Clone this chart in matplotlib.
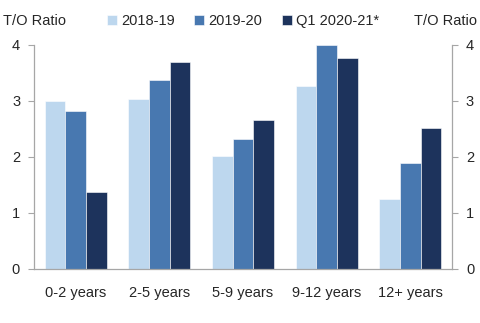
import numpy as np
import matplotlib.pyplot as plt

plt.rcParams['font.family'] = ['Liberation Sans', 'DejaVu Sans']

# Turnover ratio by age bucket
buckets = ['0-2 years', '2-5 years', '5-9 years', '9-12 years', '12+ years']
periods = ['2018-19', '2019-20', 'Q1 2020-21*']
fy19 = [3.00, 3.04, 2.02, 3.26, 1.25]
fy20 = [2.82, 3.37, 2.33, 4.00, 1.89]
q1_fy21 = [1.37, 3.70, 2.66, 3.76, 2.52]
colors = ['#BDD7EE', '#4878B0', '#1D335C']

fig = plt.figure(figsize=(4.8, 3.23), dpi=100)
ax = fig.add_axes([0.0708, 0.1672, 0.8709, 0.6935])

x = np.arange(len(buckets))
w = 0.248
for i, (vals, lab) in enumerate(zip([fy19, fy20, q1_fy21], periods)):
    ax.bar(x + (i - 1) * w, vals, w, color=colors[i], label=lab,
           edgecolor='white', linewidth=0.4)

ax.set_xlim(-0.5, len(buckets) - 0.5)
ax.set_ylim(0, 4)
ax.set_yticks([0, 1, 2, 3, 4])
ax.set_xticks(x)
ax.set_xticklabels(buckets)

grey = '#A6A6A6'
ax.spines['top'].set_visible(False)
for s in ['left', 'right', 'bottom']:
    ax.spines[s].set_color(grey)
    ax.spines[s].set_linewidth(0.9)
ax.tick_params(axis='y', left=True, right=True, labelleft=True,
               labelright=True, length=4, labelsize=10.5, pad=6,
               colors='#262626')
ax.tick_params(axis='y', color=grey)
ax.tick_params(axis='x', length=0, labelsize=10.5, pad=12, colors='#262626')

fig.text(0.006, 0.935, 'T/O Ratio', fontsize=10.5, color='#262626', va='center')
fig.text(0.994, 0.935, 'T/O Ratio', fontsize=10.5, color='#262626', va='center', ha='right')

ax.legend(loc='center', bbox_to_anchor=(0.5, 1.107), ncol=3, frameon=False,
          fontsize=10.5, handlelength=0.7, handleheight=0.7, handletextpad=0.3,
          columnspacing=1.3, labelcolor='#262626')

fig.savefig('out.png', dpi=100)
